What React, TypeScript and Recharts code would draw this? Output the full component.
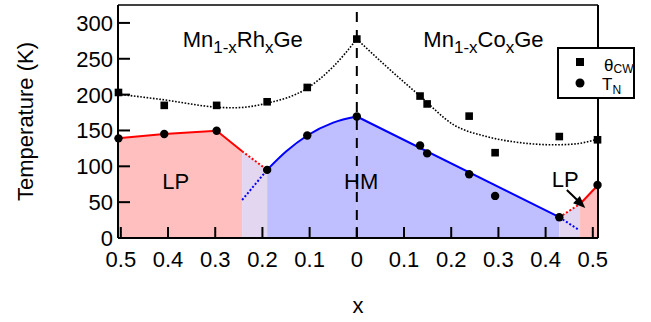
import React from 'react';
import { ComposedChart, XAxis, YAxis, Area, Line, Scatter, ReferenceLine } from 'recharts';

const FONT = '"Liberation Sans", Arial, Helvetica, sans-serif';

// measured points (x < 0 is the Rh side, x > 0 the Co side)
const rhX = [-0.505, -0.408, -0.297, -0.19, -0.105, 0];
const rhTheta = [203, 185, 185, 190, 210, 277.5];
const rhTN = [139, 145, 149.5, 95, 143, 169.5];
const coX = [0.134, 0.149, 0.238, 0.293, 0.429, 0.51];
const coTheta = [198, 187, 170, 119, 141.5, 137];
const coTN = [129, 118, 89, 58.7, 29, 74];

// phase boundaries
const lpRhX = [-0.506, -0.408, -0.297, -0.243];
const lpRhT = [139, 145, 149.5, 121];
const mixRhX = [-0.243, -0.19];
const mixRhT = [121, 95];
const hmRhDotX = [-0.243, -0.19];
const hmRhDotT = [53, 95];
const hmRhX = [-0.19, -0.15, -0.105, -0.05, 0];
const hmRhT = [95, 120.5, 143, 161, 169.5];
const hmCoX = [0, 0.429];
const hmCoT = [169.5, 29];
const hmCoDotX = [0.429, 0.471];
const hmCoDotT = [29, 11];
const mixCoX = [0.429, 0.473];
const mixCoT = [29, 47.5];
const lpCoX = [0.473, 0.511];
const lpCoT = [47.5, 74];

// Curie-Weiss guide curves
const fitRhX = [-0.506, -0.408, -0.297, -0.262, -0.19, -0.105, -0.05, 0];
const fitRhT = [200.7, 192.7, 182.5, 181.6, 188, 209, 239, 277.5];
const fitCoX = [0, 0.063, 0.134, 0.205, 0.275, 0.346, 0.417, 0.459, 0.511];
const fitCoT = [277.5, 239, 198, 158, 141.5, 133, 130, 131, 138];

const xTicks = [-0.5, -0.4, -0.3, -0.2, -0.1, 0, 0.1, 0.2, 0.3, 0.4, 0.5];
const yTicks = [0, 50, 100, 150, 200, 250, 300];

const arrowX = [0.445, 0.478];
const arrowT = [67, 46];

const notes = [
  { x: -0.369, t: 267, parts: [['Mn', 0], ['1-x', 1], ['Rh', 0], ['x', 1], ['Ge', 0]] },
  { x: 0.141, t: 267, parts: [['Mn', 0], ['1-x', 1], ['Co', 0], ['x', 1], ['Ge', 0]] },
  { x: -0.412, t: 69, parts: [['LP', 0]] },
  { x: -0.027, t: 69, parts: [['HM', 0]] },
  { x: 0.413, t: 70.5, parts: [['LP', 0]] },
];

const zip = (xs: number[], ts: number[]) => xs.map((x, i) => ({ x, t: ts[i] }));

const fmt = (v: number) => (Math.abs(v) < 1e-9 ? '0' : Math.abs(v).toFixed(1));

function XTick(props: any) {
  const { x, y, payload } = props;
  const axisY = y - 13;
  return (
    <g>
      <line x1={x} x2={x} y1={axisY} y2={axisY - 11} stroke="#000" strokeWidth={2} />
      <text x={x} y={y} dy="0.71em" textAnchor="middle" fontSize={22} fontFamily={FONT} fill="#000">
        {fmt(payload.value)}
      </text>
    </g>
  );
}

function YTick(props: any) {
  const { x, y, payload } = props;
  const axisX = x + 5;
  return (
    <g>
      <line x1={axisX} x2={axisX + 12} y1={y} y2={y} stroke="#000" strokeWidth={2} />
      <text x={x} y={y} dy="0.36em" textAnchor="end" fontSize={22} fontFamily={FONT} fill="#000">
        {payload.value}
      </text>
    </g>
  );
}

const Square = (p: any) => <rect x={p.cx - 3.8} y={p.cy - 3.8} width={7.6} height={7.6} fill="#000" />;
const Dot = (p: any) => <circle cx={p.cx} cy={p.cy} r={4.2} fill="#000" />;

const Note = (p: any) => {
  const parts = p.payload.parts as [string, number][];
  return (
    <text x={p.cx} y={p.cy} fontFamily={FONT} fontSize={22} fill="#000">
      {parts.map(([s, sub], i) => {
        const prevSub = i > 0 ? parts[i - 1][1] : 0;
        const dy = sub && !prevSub ? 6 : !sub && prevSub ? -6 : 0;
        return (
          <tspan key={i} dy={dy} fontSize={sub ? 17 : 22}>
            {s}
          </tspan>
        );
      })}
    </text>
  );
};

const ArrowHead = (p: any) => (
  <polygon
    points="0,0 -12,-5 -12,5"
    transform={`translate(${p.cx},${p.cy}) rotate(43)`}
    fill="#000"
  />
);

function LegendBox() {
  return (
    <svg
      width={80}
      height={54}
      viewBox="0 0 80 54"
      style={{ position: 'absolute', left: 556, top: 46, zIndex: 10, display: 'block', overflow: 'visible' }}
    >
      <path d="M2 2 H78 V52 H2 Z" fill="#ffffff" stroke="#000000" strokeWidth={2} />
      <rect x={20} y={12} width={8} height={8} fill="#000" />
      <circle cx={24} cy={37} r={4.5} fill="#000" />
      <text x={48} y={25} fontFamily={FONT} fontSize={17} fill="#000">
        θ<tspan fontSize={12} dy={2}>CW</tspan>
      </text>
      <text x={46} y={44} fontFamily={FONT} fontSize={17} fill="#000">
        T<tspan fontSize={12} dy={4}>N</tspan>
      </text>
    </svg>
  );
}

export default function App() {
  const none = false;
  return (
    <div style={{ position: 'absolute', left: 0, top: 0, width: 651, height: 322, background: '#fff' }}>
      <ComposedChart width={651} height={322} margin={{ top: 5, right: 53, bottom: 0, left: 0 }} style={{ fontFamily: FONT }}>
        <Area data={zip(lpRhX, lpRhT)} dataKey="t" type="linear" stroke="none" fill="#ffbfbf" fillOpacity={1} isAnimationActive={false} dot={none} activeDot={none} />
        <Area data={zip(mixRhX, mixRhT)} dataKey="t" type="linear" stroke="none" fill="#e3d6f1" fillOpacity={1} isAnimationActive={false} dot={none} activeDot={none} />
        <Area data={zip(hmRhX, hmRhT)} dataKey="t" type="monotone" stroke="none" fill="#bfbfff" fillOpacity={1} isAnimationActive={false} dot={none} activeDot={none} />
        <Area data={zip(hmCoX, hmCoT)} dataKey="t" type="linear" stroke="none" fill="#bfbfff" fillOpacity={1} isAnimationActive={false} dot={none} activeDot={none} />
        <Area data={zip(mixCoX, mixCoT)} dataKey="t" type="linear" stroke="none" fill="#e3d6f1" fillOpacity={1} isAnimationActive={false} dot={none} activeDot={none} />
        <Area data={zip(lpCoX, lpCoT)} dataKey="t" type="linear" stroke="none" fill="#ffbfbf" fillOpacity={1} isAnimationActive={false} dot={none} activeDot={none} />

        <ReferenceLine x={0} stroke="#000" strokeWidth={2} strokeDasharray="10 8" />
        <ReferenceLine y={325} stroke="#000" strokeWidth={1.5} />
        <ReferenceLine x={0.511} stroke="#000" strokeWidth={2} />

        <Line data={zip(fitRhX, fitRhT)} dataKey="t" type="monotone" stroke="#000" strokeWidth={1.6} strokeDasharray="1.6 1.6" dot={false} activeDot={false} isAnimationActive={false} />
        <Line data={zip(fitCoX, fitCoT)} dataKey="t" type="monotone" stroke="#000" strokeWidth={1.6} strokeDasharray="1.6 1.6" dot={false} activeDot={false} isAnimationActive={false} />

        <Line data={zip(lpRhX, lpRhT)} dataKey="t" type="linear" stroke="#ff0000" strokeWidth={2} dot={false} activeDot={false} isAnimationActive={false} />
        <Line data={zip(mixRhX, mixRhT)} dataKey="t" type="linear" stroke="#ff0000" strokeWidth={2} strokeDasharray="2 2" dot={false} activeDot={false} isAnimationActive={false} />
        <Line data={zip(hmRhDotX, hmRhDotT)} dataKey="t" type="linear" stroke="#0000ff" strokeWidth={2} strokeDasharray="2 2" dot={false} activeDot={false} isAnimationActive={false} />
        <Line data={zip(hmRhX, hmRhT)} dataKey="t" type="monotone" stroke="#0000ff" strokeWidth={2} dot={false} activeDot={false} isAnimationActive={false} />
        <Line data={zip(hmCoX, hmCoT)} dataKey="t" type="linear" stroke="#0000ff" strokeWidth={2} dot={false} activeDot={false} isAnimationActive={false} />
        <Line data={zip(hmCoDotX, hmCoDotT)} dataKey="t" type="linear" stroke="#0000ff" strokeWidth={2} strokeDasharray="2 2" dot={false} activeDot={false} isAnimationActive={false} />
        <Line data={zip(mixCoX, mixCoT)} dataKey="t" type="linear" stroke="#ff0000" strokeWidth={2} strokeDasharray="2 2" dot={false} activeDot={false} isAnimationActive={false} />
        <Line data={zip(lpCoX, lpCoT)} dataKey="t" type="linear" stroke="#ff0000" strokeWidth={2} dot={false} activeDot={false} isAnimationActive={false} />
        <Line data={zip(arrowX, arrowT)} dataKey="t" type="linear" stroke="#000" strokeWidth={2} dot={false} activeDot={false} isAnimationActive={false} />

        <XAxis
          type="number"
          dataKey="x"
          domain={[-0.506, 0.511]}
          ticks={xTicks}
          interval={0}
          height={84}
          tick={<XTick />}
          tickLine={false}
          tickSize={0}
          tickMargin={13}
          axisLine={{ stroke: '#000', strokeWidth: 2 }}
          label={(p: any) => (
            <text x={p.viewBox.x + p.viewBox.width / 2} y={p.viewBox.y + 75} textAnchor="middle" fontSize={22} fontFamily={FONT} fill="#000">
              x
            </text>
          )}
        />
        <YAxis
          type="number"
          domain={[0, 325]}
          ticks={yTicks}
          interval={0}
          width={118}
          tick={<YTick />}
          tickLine={false}
          tickSize={0}
          tickMargin={5}
          axisLine={{ stroke: '#000', strokeWidth: 2 }}
          label={(p: any) => {
            const cx = p.viewBox.x + 25;
            const cy = p.viewBox.y + p.viewBox.height / 2;
            return (
              <text x={cx} y={cy} dy="0.36em" transform={`rotate(-90 ${cx} ${cy})`} textAnchor="middle" fontSize={22} fontFamily={FONT} fill="#000">
                Temperature (K)
              </text>
            );
          }}
        />

        <Scatter data={zip(rhX, rhTheta)} dataKey="t" shape={Square} isAnimationActive={false} />
        <Scatter data={zip(coX, coTheta)} dataKey="t" shape={Square} isAnimationActive={false} />
        <Scatter data={zip(rhX, rhTN)} dataKey="t" shape={Dot} isAnimationActive={false} />
        <Scatter data={zip(coX, coTN)} dataKey="t" shape={Dot} isAnimationActive={false} />
        <Scatter data={[{ x: 0.484, t: 42 }]} dataKey="t" shape={ArrowHead} isAnimationActive={false} />
        <Scatter data={notes} dataKey="t" shape={Note} isAnimationActive={false} />
      </ComposedChart>
      <LegendBox />
    </div>
  );
}
